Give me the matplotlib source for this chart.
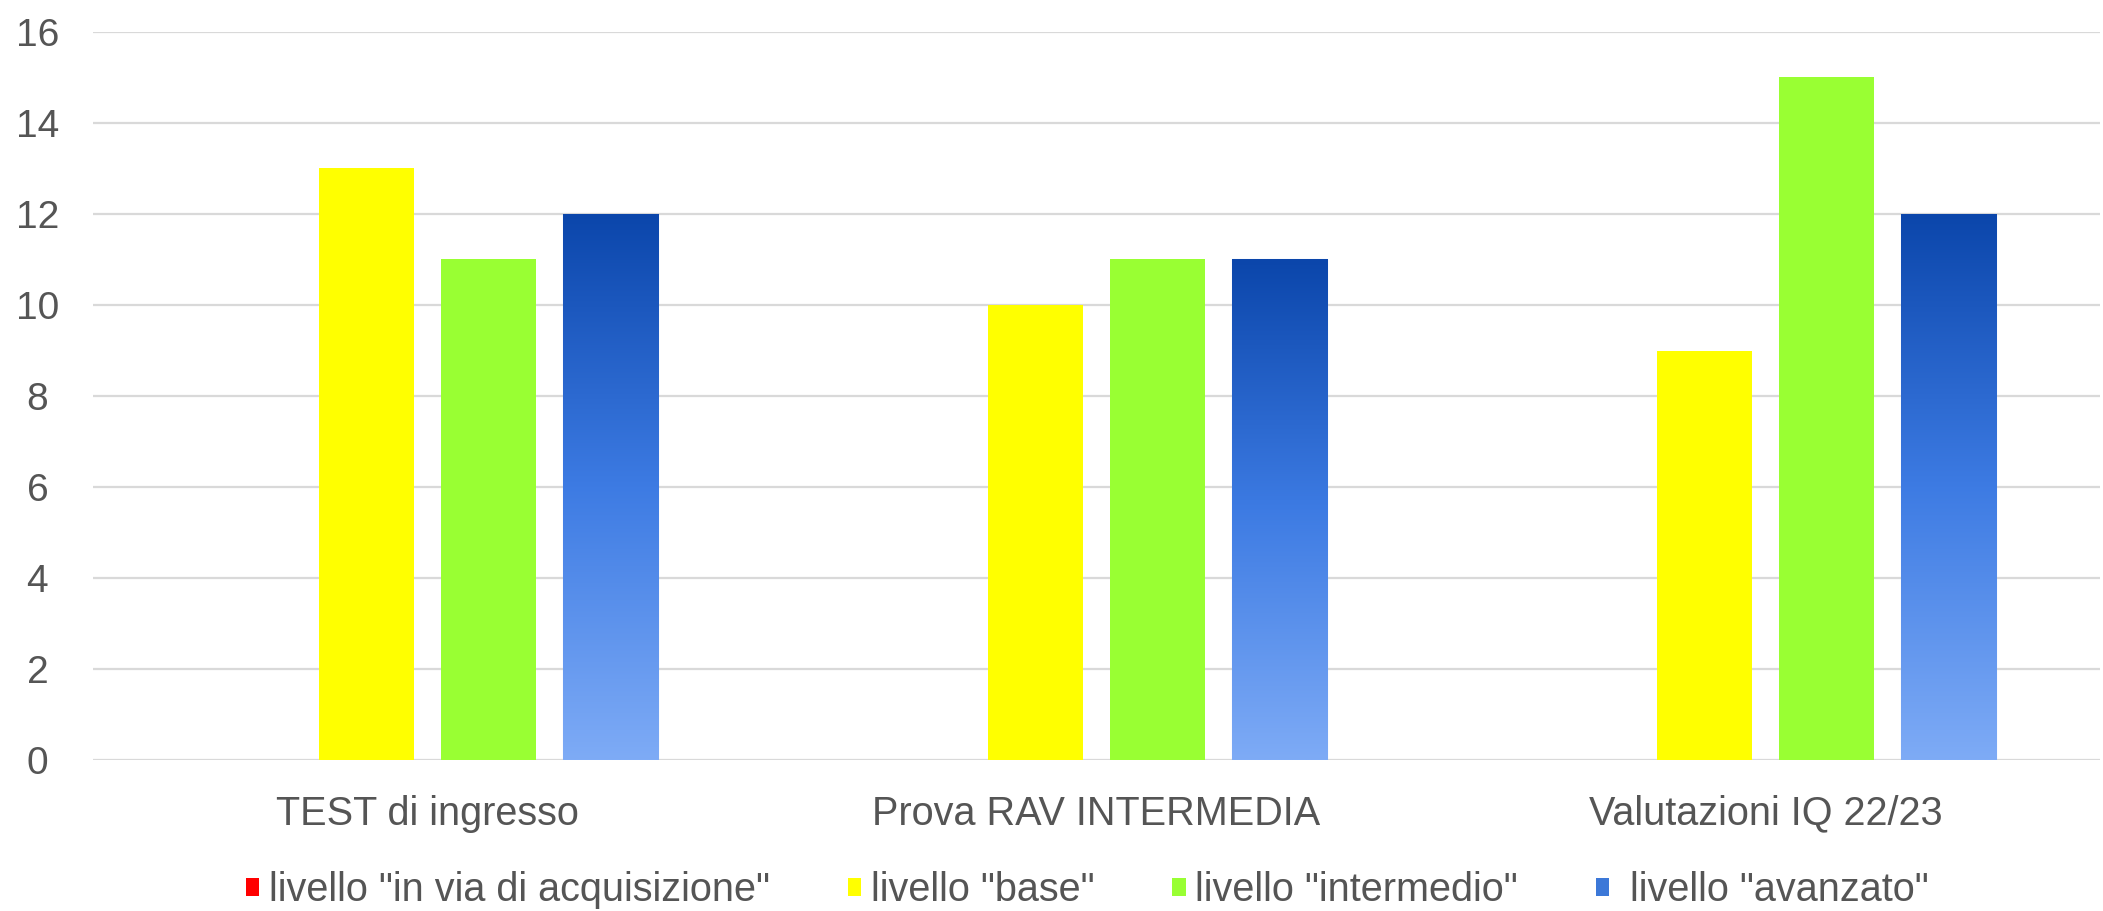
import numpy as np
import matplotlib
matplotlib.use("Agg")
import matplotlib.pyplot as plt
from matplotlib.patches import Patch
from matplotlib.colors import LinearSegmentedColormap

plt.rcParams['font.family'] = ['Liberation Sans', 'DejaVu Sans']

# data
categories = ["TEST di ingresso", "Prova RAV INTERMEDIA", "Valutazioni IQ 22/23"]
series_names = ['livello "in via di acquisizione"', 'livello "base"',
                'livello "intermedio"', ' livello "avanzato"']
in_via = [0, 0, 0]
base = [13, 10, 9]
intermedio = [11, 11, 15]
avanzato = [12, 11, 12]
colors = ["#ff0000", "#ffff00", "#99ff33", "#3c78d8"]

fig = plt.figure(figsize=(21.03, 9.11), dpi=100)
ax = fig.add_axes([0.0442, 0.1657, 0.9544, 0.7992])

x = np.arange(len(categories))
step = 0.182
width = 0.142
values = [in_via, base, intermedio, avanzato]

blue_bars = None
for i, vals in enumerate(values):
    bars = ax.bar(x + (i - 1.5) * step, vals, width, color=colors[i], zorder=3)
    if i == 3:
        blue_bars = bars

# gradient fill for the blue series (dark on top, light at the bottom)
cmap = LinearSegmentedColormap.from_list("blu", ["#7eabf6", "#3d7be3", "#0b46ab"])
grad = np.linspace(0, 1, 256).reshape(-1, 1)
for b in blue_bars:
    x0, y0 = b.get_x(), b.get_y()
    w, h = b.get_width(), b.get_height()
    b.set_facecolor("none")
    b.set_edgecolor("#a9c4f2")
    b.set_linewidth(0.8)
    im = ax.imshow(grad, extent=[x0, x0 + w, y0, y0 + h], origin="lower",
                   cmap=cmap, aspect="auto", zorder=3)
    im.set_clip_path(b)

ax.set_xlim(-0.5, 2.5)
ax.set_ylim(0, 16)
ax.set_yticks(range(0, 17, 2))
ax.set_xticks(x)
ax.set_xticklabels(categories)
ax.yaxis.grid(True, color="#d9d9d9", linewidth=1.6, zorder=0)
ax.set_axisbelow(True)
for s in ax.spines.values():
    s.set_visible(False)
ax.tick_params(axis="y", length=0, labelsize=28, colors="#555555", pad=40)
ax.tick_params(axis="x", length=0, labelsize=28.5, colors="#555555", pad=25)
for lab in ax.get_yticklabels():
    lab.set_horizontalalignment("center")

handles = [Patch(facecolor=c, edgecolor="none") for c in colors]
fig.legend(handles, series_names, loc="lower center", bbox_to_anchor=(0.517, -0.037),
           ncol=4, frameon=False, fontsize=28.5, labelcolor="#555555",
           handlelength=0.34, handleheight=0.34, handletextpad=0.24,
           columnspacing=1.97)

fig.savefig("out.png", dpi=100)
